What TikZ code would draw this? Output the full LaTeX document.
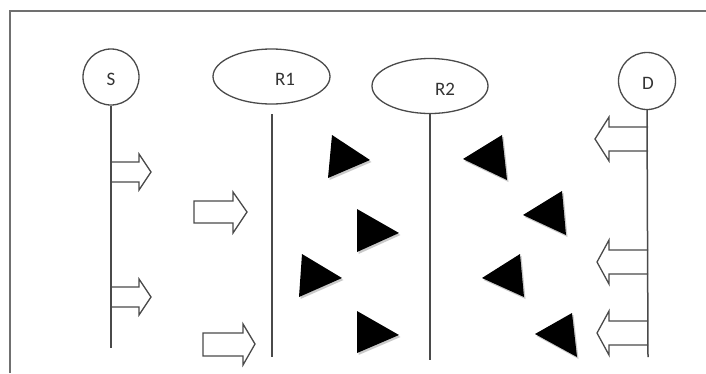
\documentclass[tikz,border=0pt]{standalone}
\usepackage{fontspec}
\setmainfont{Carlito}
\usetikzlibrary{shapes.geometric}
\definecolor{linegray}{HTML}{4A4A4A}
\definecolor{framegray}{HTML}{707070}
\tikzset{
  ent/.style={draw=linegray, line width=1.3pt, inner sep=0pt},
  lbl/.style={font=\fontsize{19}{22}\selectfont, text=black!80, inner sep=0pt},
  life/.style={draw=linegray, line width=1.5pt},
  hollow/.style={draw=linegray, line width=1.3pt, fill=white, line join=miter},
  tri/.style={fill=black},
  trishadow/.style={fill=black!35, opacity=0.6},
}
\begin{document}
\begin{tikzpicture}[x=1pt,y=-1pt]
\useasboundingbox (0,0) rectangle (706,373);
% frame (cropped)
\draw[framegray, line width=2pt] (10,373) -- (10,11) -- (706,11);

% entities
\node[ent, circle, minimum size=56pt] (S) at (111,77) {};
\node[lbl] (St) at (111,79) {S};
\node[ent, ellipse, minimum width=117pt, minimum height=55pt] (R1) at (271.5,76.5) {};
\node[lbl] (R1t) at (285,79) {R1};
\node[ent, ellipse, minimum width=116pt, minimum height=55pt] (R2) at (430,86) {};
\node[lbl] (R2t) at (445,89) {R2};
\node[ent, circle, minimum size=57pt] (D) at (647,81) {};
\node[lbl] (Dt) at (648,83) {D};

% hollow arrows attached to S
\foreach \y in {172,297}{
  \draw[hollow] (111,\y-10) -- (139,\y-10) -- (139,\y-18) -- (151,\y) -- (139,\y+18) -- (139,\y+10) -- (111,\y+10);
}
% standalone hollow arrows
\draw[hollow] (194,201) -- (233,201) -- (233,192) -- (247,212) -- (233,233) -- (233,223) -- (194,223) -- cycle;
\draw[hollow] (203,333) -- (243,333) -- (243,324) -- (255,344) -- (243,365) -- (243,356) -- (203,356) -- cycle;
% hollow arrows attached to D
\foreach \y/\t in {139/595,262/597,333/597}{
  \draw[hollow] (648,\y-12) -- (609,\y-12) -- (609,\y-22) -- (\t,\y) -- (609,\y+22) -- (609,\y+12) -- (648,\y+12);
}

% lifelines (drawn over the arrow fills)
\coordinate (Send) at (111,348);
\coordinate (R1top) at (272,114);
\coordinate (R1end) at (272,357);
\coordinate (R2end) at (430,360);
\coordinate (Dend) at (648,357);
\draw[life] (S.south) -- (Send);
\draw[life] (R1top) -- (R1end);
\draw[life] (R2.south) -- (R2end);
\draw[life] (D.south) -- (Dend);

% black triangles: right-pointing
\foreach \a/\b/\c in {{332,135}/{328,178}/{370,160}, {357,209}/{357,252}/{399,233}, {302,254}/{299,297}/{342,278}, {357,311}/{357,353}/{399,335}}{
  \fill[trishadow] ([shift={(1.5,2)}]\a) -- ([shift={(1.5,2)}]\c) -- ([shift={(1.5,2)}]\b) -- cycle;
  \fill[tri] (\a) -- (\c) -- (\b) -- cycle;
}
% black triangles: left-pointing
\foreach \a/\b/\c in {{463,159}/{502,135}/{507,180}, {523,215}/{562,191}/{566,235}, {482,278}/{520,254}/{524,297}, {535,334}/{572,313}/{577,357}}{
  \fill[trishadow] ([shift={(1.5,2)}]\a) -- ([shift={(1.5,2)}]\b) -- ([shift={(1.5,2)}]\c) -- cycle;
  \fill[tri] (\a) -- (\b) -- (\c) -- cycle;
}
\end{tikzpicture}
\end{document}
